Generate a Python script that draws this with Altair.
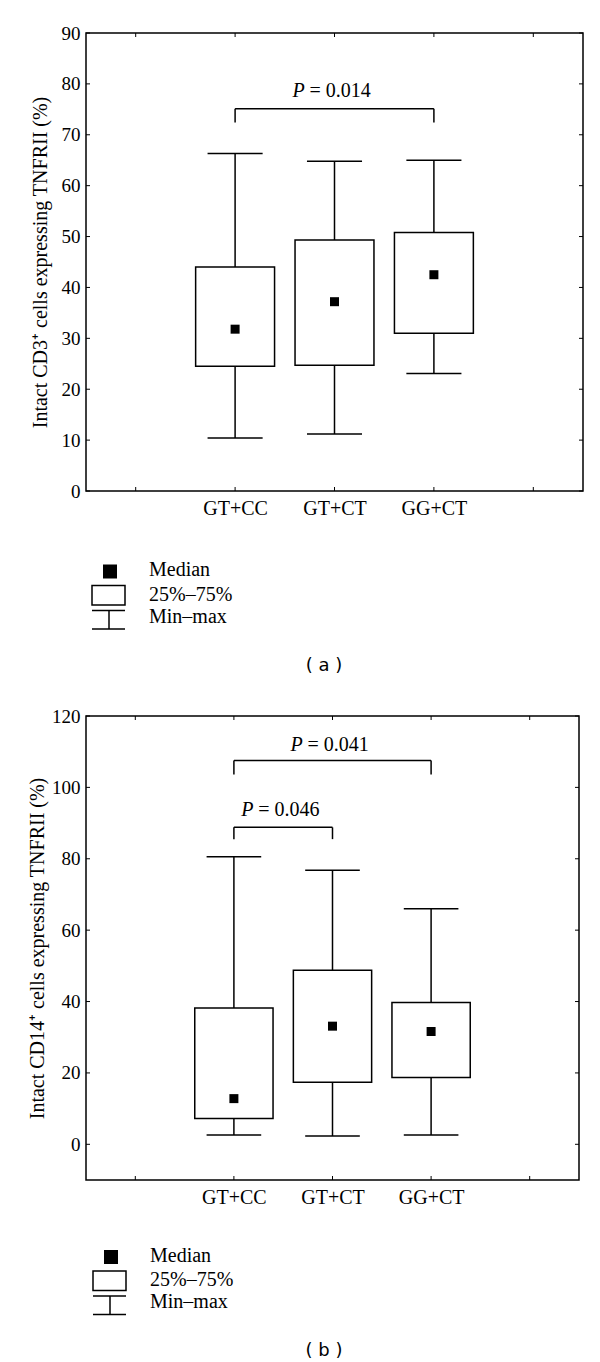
import json
import altair as alt
import pandas as pd

SERIF = "Liberation Serif"
SANS = "DejaVu Sans"

categories = ["GT+CC", "GT+CT", "GG+CT"]
legend_labels = ["Median", "25%–75%", "Min–max"]

# Panel (a): Intact CD3+ cells expressing TNFRII (%)
a_min = [10.4, 11.2, 23.1]
a_q1 = [24.5, 24.7, 31.0]
a_median = [31.8, 37.2, 42.5]
a_q3 = [44.0, 49.3, 50.8]
a_max = [66.3, 64.8, 65.0]
a_yticks = [0, 10, 20, 30, 40, 50, 60, 70, 80, 90]
a_ydomain = [0, 90]
a_title = "Intact CD3⁺ cells expressing TNFRII (%)"
a_br_from = ["GT+CC"]
a_br_to = ["GG+CT"]
a_br_level = [75.1]
a_br_leg = [72.4]
a_br_text = ["= 0.014"]
a_br_text_y = [78.7]

# Panel (b): Intact CD14+ cells expressing TNFRII (%)
b_min = [2.6, 2.3, 2.6]
b_q1 = [7.2, 17.4, 18.7]
b_median = [12.8, 33.1, 31.6]
b_q3 = [38.2, 48.8, 39.7]
b_max = [80.6, 76.8, 66.0]
b_yticks = [0, 20, 40, 60, 80, 100, 120]
b_ydomain = [-10, 120]
b_title = "Intact CD14⁺ cells expressing TNFRII (%)"
b_br_from = ["GT+CC", "GT+CC"]
b_br_to = ["GG+CT", "GT+CT"]
b_br_level = [107.5, 88.8]
b_br_leg = [103.6, 85.5]
b_br_text = ["= 0.041", "= 0.046"]
b_br_text_y = [111.8, 93.7]

SW = 1.5
TICK = 4


def panel(mins, q1s, meds, q3s, maxs, ydomain, yticks, ytitle,
          br_from, br_to, br_level, br_leg, br_text, br_text_y,
          tag, width, height, title_pad, leg):
    n = len(categories)
    df = pd.DataFrame({
        "group": categories,
        "pos": [categories.index(c) for c in categories],
        "min": mins, "q1": q1s, "median": meds, "q3": q3s, "max": maxs,
    })
    br = pd.DataFrame({
        "p1": [categories.index(c) for c in br_from],
        "p2": [categories.index(c) for c in br_to],
        "level": br_level, "leg": br_leg,
        "text": br_text, "ty": br_text_y,
    })
    br["mid"] = (br["p1"] + br["p2"]) / 2

    xs = alt.Scale(domain=[-1.5, n + 0.5], nice=False, zero=False)
    ys = alt.Scale(domain=ydomain, nice=False, zero=False)
    label_expr = ("datum.value >= 0 && datum.value < %d ? %s[datum.value] : ''"
                  % (n, json.dumps(categories)))
    x_axis = alt.Axis(values=list(range(-1, n + 1)), labelExpr=label_expr, title=None,
                      grid=False, domain=False, ticks=False, tickSize=0,
                      labelFont=SERIF, labelFontSize=20, labelPadding=7,
                      labelColor="black")
    y_axis = alt.Axis(values=yticks, title=ytitle, grid=False, domain=False,
                      ticks=False, tickSize=0, labelFont=SERIF, labelFontSize=19,
                      labelPadding=6, labelColor="black", titleFont=SERIF,
                      titleFontSize=20, titleFontWeight="normal",
                      titlePadding=title_pad, titleColor="black")

    def X(f):
        return alt.X(f, scale=xs, axis=x_axis)

    def Y(f):
        return alt.Y(f, scale=ys, axis=y_axis)

    base = alt.Chart(df)
    whisk = base.mark_rule(color="black", strokeWidth=SW).encode(
        x=X("pos:Q"), y=Y("min:Q"), y2="max:Q")
    caps = base.transform_calculate(
        cl="datum.pos - 0.277", cr="datum.pos + 0.277"
    ).transform_fold(["min", "max"], as_=["k", "v"]).mark_rule(
        color="black", strokeWidth=SW).encode(x=X("cl:Q"), x2="cr:Q", y=Y("v:Q"))
    box = base.transform_calculate(
        bl="datum.pos - 0.397", bh="datum.pos + 0.397"
    ).mark_rect(fill="white", stroke="black", strokeWidth=SW).encode(
        x=X("bl:Q"), x2="bh:Q", y=Y("q1:Q"), y2="q3:Q")
    med = base.mark_square(size=81, color="black", filled=True, opacity=1).encode(
        x=X("pos:Q"), y=Y("median:Q"))

    yt = alt.Chart(pd.DataFrame({"t": yticks}))
    ytl = yt.mark_rule(color="black", strokeWidth=1).encode(
        y=Y("t:Q"), x=alt.value(0), x2=alt.value(TICK))
    ytr = yt.mark_rule(color="black", strokeWidth=1).encode(
        y=Y("t:Q"), x=alt.value(width - TICK), x2=alt.value(width))
    xt = alt.Chart(pd.DataFrame({"t": list(range(-1, n + 1))}))
    xtb = xt.mark_rule(color="black", strokeWidth=1).encode(
        x=X("t:Q"), y=alt.value(height - TICK), y2=alt.value(height))
    xtt = xt.mark_rule(color="black", strokeWidth=1).encode(
        x=X("t:Q"), y=alt.value(0), y2=alt.value(TICK))

    bb = alt.Chart(br)
    br_h = bb.mark_rule(color="black", strokeWidth=SW).encode(
        x=X("p1:Q"), x2="p2:Q", y=Y("level:Q"))
    br_l = bb.mark_rule(color="black", strokeWidth=SW).encode(
        x=X("p1:Q"), y=Y("leg:Q"), y2="level:Q")
    br_r = bb.mark_rule(color="black", strokeWidth=SW).encode(
        x=X("p2:Q"), y=Y("leg:Q"), y2="level:Q")
    br_p = bb.mark_text(font=SERIF, fontSize=20, fontStyle="italic", align="left",
                        baseline="middle", dx=-42, color="black").encode(
        x=X("mid:Q"), y=Y("ty:Q"), text=alt.value("P"))
    br_t = bb.mark_text(font=SERIF, fontSize=20, align="left", baseline="middle",
                        dx=-25, color="black").encode(
        x=X("mid:Q"), y=Y("ty:Q"), text="text:N")

    one = alt.Chart(pd.DataFrame({"k": [0]}))
    lx, ly = leg
    lg_sq = one.mark_square(size=196, color="black", filled=True, opacity=1).encode(
        x=alt.value(lx + 18), y=alt.value(ly))
    lg_box = one.mark_rect(fill="white", stroke="black", strokeWidth=SW).encode(
        x=alt.value(lx), x2=alt.value(lx + 33), y=alt.value(ly + 14), y2=alt.value(ly + 33.5))
    lg_w1 = one.mark_rule(color="black", strokeWidth=SW).encode(
        x=alt.value(lx), x2=alt.value(lx + 33), y=alt.value(ly + 39))
    lg_w2 = one.mark_rule(color="black", strokeWidth=SW).encode(
        x=alt.value(lx + 17), y=alt.value(ly + 39), y2=alt.value(ly + 57.5))
    lg_w3 = one.mark_rule(color="black", strokeWidth=SW).encode(
        x=alt.value(lx), x2=alt.value(lx + 33), y=alt.value(ly + 57.5))
    lg_texts = []
    for i, lab in enumerate(legend_labels):
        lg_texts.append(one.mark_text(font=SERIF, fontSize=20, align="left",
                                      baseline="middle", color="black").encode(
            x=alt.value(lx + 57), y=alt.value(ly - 1.5 + [0, 24.5, 46.8][i]),
            text=alt.value(lab)))
    lg_tag = one.mark_text(font=SANS, fontSize=18, align="center", baseline="middle",
                           color="black").encode(
        x=alt.value(238), y=alt.value(ly + 94), text=alt.value(tag))

    return alt.layer(whisk, caps, box, med, ytl, ytr, xtb, xtt,
                     br_h, br_l, br_r, br_p, br_t,
                     lg_sq, lg_box, lg_w1, lg_w2, lg_w3, *lg_texts, lg_tag
                     ).properties(width=width, height=height)


pa = panel(a_min, a_q1, a_median, a_q3, a_max, a_ydomain, a_yticks, a_title,
           a_br_from, a_br_to, a_br_level, a_br_leg, a_br_text, a_br_text_y,
           "( a )", 497, 458, 11, (6, 538.5))
pb = panel(b_min, b_q1, b_median, b_q3, b_max, b_ydomain, b_yticks, b_title,
           b_br_from, b_br_to, b_br_level, b_br_leg, b_br_text, b_br_text_y,
           "( b )", 493, 464, 4, (7, 541))

chart = alt.vconcat(pa, pb, spacing=30).configure_view(
    stroke="black", strokeWidth=1.5
).properties(padding={"left": 18, "top": 15, "right": 2, "bottom": 2})

chart.save("out.html", embed_options={"renderer": "svg", "actions": False})
